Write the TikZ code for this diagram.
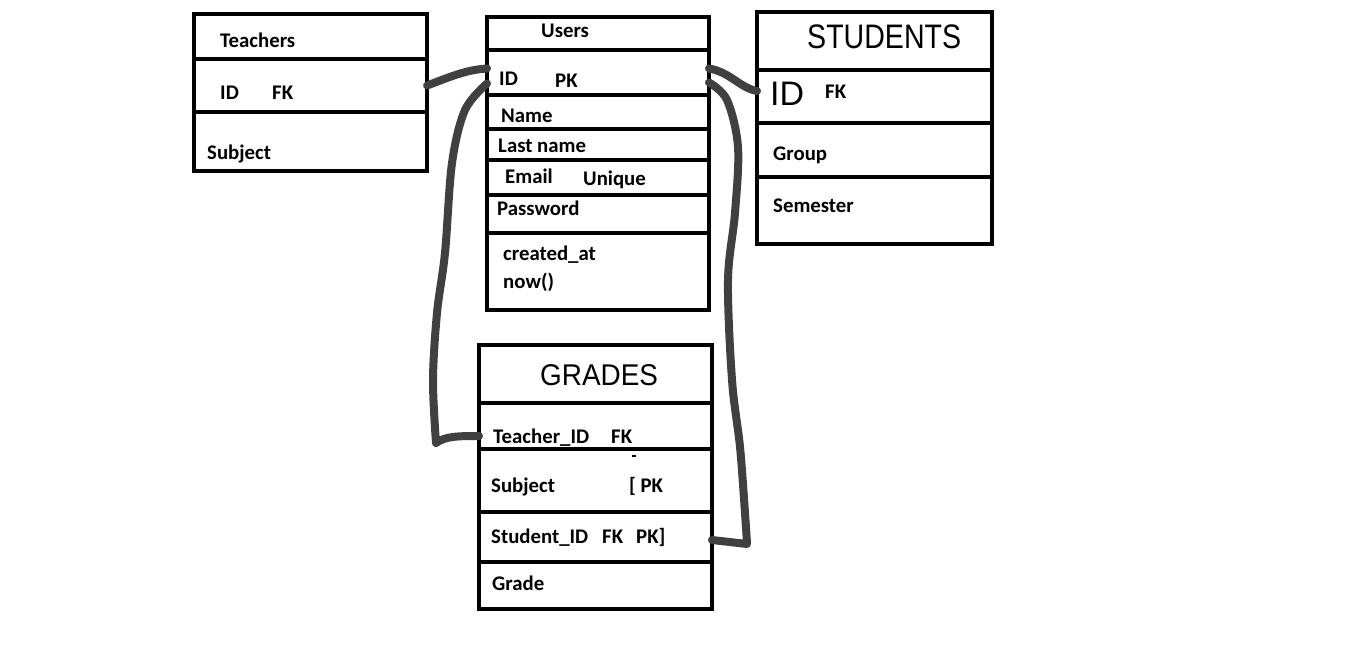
\documentclass[tikz,border=0pt]{standalone}
\usepackage{fontspec}
\setmainfont{Carlito}
\newfontfamily\hand{Liberation Sans}
\definecolor{wire}{HTML}{404040}
\begin{document}
\begin{tikzpicture}[x=1pt,y=-1pt,
  row/.style={draw=black, line width=4.5pt, inner sep=0pt, outer sep=0pt, anchor=north west},
  lbl/.style={anchor=base west, inner sep=0pt, font=\fontsize{20.8}{24}\selectfont\bfseries},
  title/.style={anchor=base west, inner sep=0pt},
  link/.style={draw=wire, line width=8pt, line cap=round, line join=round}]
\useasboundingbox (0,0) rectangle (1370,648);
\fill[white] (0,0) rectangle (1370,648);

% Teachers table
\node[row, minimum width=233pt, minimum height=45pt] (t-head) at (194,14) {};
\node[row, minimum width=233pt, minimum height=53pt] (t-id) at (194,59) {};
\node[row, minimum width=233pt, minimum height=59pt] (t-subj) at (194,112) {};
\node[lbl] (t-name) at (220,47) {Teachers};
\node[lbl] (t-idtxt) at (220,99) {ID};
\node[lbl] (t-fk) at (272,99) {FK};
\node[lbl] (t-subjtxt) at (207,159) {Subject};

% Users table
\node[row, minimum width=222pt, minimum height=33pt] (u-head) at (487,17) {};
\node[row, minimum width=222pt, minimum height=45pt] (u-id) at (487,50) {};
\node[row, minimum width=222pt, minimum height=34pt] (u-name) at (487,95) {};
\node[row, minimum width=222pt, minimum height=31pt] (u-last) at (487,129) {};
\node[row, minimum width=222pt, minimum height=35pt] (u-mail) at (487,160) {};
\node[row, minimum width=222pt, minimum height=38pt] (u-pass) at (487,195) {};
\node[row, minimum width=222pt, minimum height=77pt] (u-created) at (487,233) {};
\node[lbl] (u-title) at (541,37) {Users};
\node[lbl] (u-idtxt) at (499,85) {ID};
\node[lbl] (u-pk) at (555,87) {PK};
\node[lbl] (u-nametxt) at (501,122) {Name};
\node[lbl] (u-lasttxt) at (498,152) {Last name};
\node[lbl] (u-mailtxt) at (505,183) {Email};
\node[lbl] (u-unique) at (583,185) {Unique};
\node[lbl] (u-passtxt) at (497,215) {Password};
\node[lbl] (u-createdtxt) at (503,260) {created\_at};
\node[lbl] (u-now) at (503,288) {now()};

% Students table
\node[row, minimum width=235pt, minimum height=58pt] (s-head) at (757,12) {};
\node[row, minimum width=235pt, minimum height=53pt] (s-id) at (757,70) {};
\node[row, minimum width=235pt, minimum height=54pt] (s-group) at (757,123) {};
\node[row, minimum width=235pt, minimum height=67pt] (s-sem) at (757,177) {};
\node[title] (s-title) at (807,48) {\hand\fontsize{34}{40}\selectfont\scalebox{0.84}[1]{STUDENTS}};
\node[title] (s-idtxt) at (770,105) {\hand\fontsize{34}{40}\selectfont ID};
\node[lbl] (s-fk) at (825,98) {FK};
\node[lbl] (s-grouptxt) at (773,160) {Group};
\node[lbl] (s-semtxt) at (773,212) {Semester};

% Grades table
\node[row, minimum width=233pt, minimum height=58pt] (g-head) at (479,345) {};
\node[row, minimum width=233pt, minimum height=46pt] (g-tid) at (479,403) {};
\node[row, minimum width=233pt, minimum height=63pt] (g-subj) at (479,449) {};
\node[row, minimum width=233pt, minimum height=50pt] (g-sid) at (479,512) {};
\node[row, minimum width=233pt, minimum height=47pt] (g-grade) at (479,562) {};
\node[title] (g-title) at (540,385) {\hand\fontsize{30}{36}\selectfont\scalebox{0.93}[1]{GRADES}};
\node[lbl] (g-tidtxt) at (493,443) {Teacher\_ID};
\node[lbl] (g-tfk) at (611,443) {FK};
\node[lbl] (g-subjtxt) at (491,492) {Subject};
\node[lbl] (g-pkopen) at (629,492) {[ PK};
\node[lbl] (g-sidtxt) at (491,543) {Student\_ID};
\node[lbl] (g-sfk) at (602,543) {FK};
\node[lbl] (g-pkclose) at (636,543) {PK]};
\node[lbl] (g-gradetxt) at (492,590) {Grade};
\draw[line width=1.5pt] (632,456) -- (636,456);

% Relationship lines
\coordinate (a-start) at ([yshift=-11pt]u-id.west);
\coordinate (a-end) at ([yshift=-10pt]g-tid.west);
\coordinate (b-start) at ([yshift=-10pt]u-id.east);
\coordinate (b-end) at ([yshift=-3pt]g-sid.east);

\draw[link] (t-id.east) .. controls (450,77) and (465,70) .. ([yshift=4pt]u-id.west);
\draw[link] ([yshift=4pt]u-id.east) .. controls (730,72) and (740,88) .. ([yshift=5.5pt]s-id.west);
\draw[link] plot[smooth, tension=0.55] coordinates {(a-start) (465,110) (452,163) (445,253) (437,313) (433,380) (436,443)}
  .. controls (445,436) and (460,436) .. (a-end);
\draw[link] plot[smooth, tension=0.55] coordinates {(b-start) (727,100) (738,147) (735,213) (728,280) (732,380) (740,447) (745,513) (747,544)}
  -- (b-end);
\end{tikzpicture}
\end{document}
